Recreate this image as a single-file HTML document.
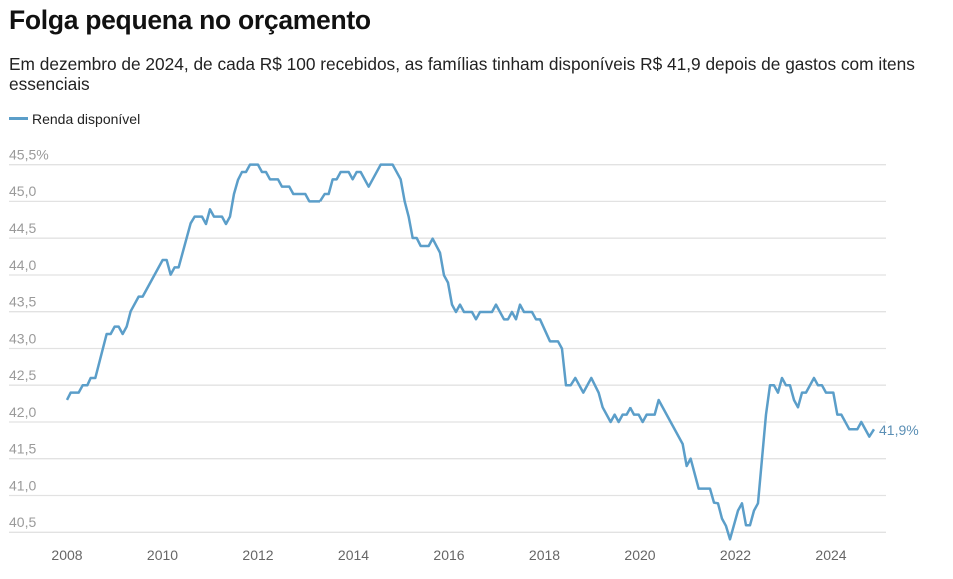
<!DOCTYPE html>
<html><head><meta charset="utf-8"><style>
body{margin:0;width:953px;height:579px;background:#fff;font-family:"Liberation Sans",Arial,sans-serif;overflow:hidden;position:relative}
.t{position:absolute;left:9px;top:5px;font-size:26.5px;font-weight:bold;color:#111;letter-spacing:-0.3px}
.s{position:absolute;left:9px;top:54px;font-size:17.3px;color:#222;line-height:20px;width:940px}
.l{position:absolute;left:9px;top:111px;font-size:14px;color:#222}
.l i{display:inline-block;width:19px;height:3px;background:#5b9ec9;vertical-align:middle;margin-right:4px;position:relative;top:-2px}
</style></head><body>
<div class="t">Folga pequena no orçamento</div>
<div class="s">Em dezembro de 2024, de cada R$ 100 recebidos, as famílias tinham disponíveis R$ 41,9 depois de gastos com itens essenciais</div>
<div class="l"><i></i>Renda disponível</div>
<svg width="953" height="579" style="position:absolute;left:0;top:0" font-family="Liberation Sans, Arial, sans-serif">
<g stroke="#e2e2e2" stroke-width="1.3">
<line x1="9" x2="886" y1="164.7" y2="164.7"/><line x1="9" x2="886" y1="201.4" y2="201.4"/><line x1="9" x2="886" y1="238.2" y2="238.2"/><line x1="9" x2="886" y1="275" y2="275"/><line x1="9" x2="886" y1="311.7" y2="311.7"/><line x1="9" x2="886" y1="348.5" y2="348.5"/><line x1="9" x2="886" y1="385.2" y2="385.2"/><line x1="9" x2="886" y1="422" y2="422"/><line x1="9" x2="886" y1="458.7" y2="458.7"/><line x1="9" x2="886" y1="495.5" y2="495.5"/><line x1="9" x2="886" y1="532.3" y2="532.3"/>
</g>
<g fill="#9a9a9a" font-size="14">
<text x="9" y="159.5">45,5%</text><text x="9" y="196.2">45,0</text><text x="9" y="233">44,5</text><text x="9" y="269.8">44,0</text><text x="9" y="306.5">43,5</text><text x="9" y="343.3">43,0</text><text x="9" y="380">42,5</text><text x="9" y="416.8">42,0</text><text x="9" y="453.5">41,5</text><text x="9" y="490.3">41,0</text><text x="9" y="527.1">40,5</text>
</g>
<g fill="#666" font-size="14" text-anchor="middle">
<text x="67" y="560">2008</text><text x="162.5" y="560">2010</text><text x="258" y="560">2012</text><text x="353.5" y="560">2014</text><text x="449" y="560">2016</text><text x="544.5" y="560">2018</text><text x="640" y="560">2020</text><text x="735.5" y="560">2022</text><text x="831" y="560">2024</text>
</g>
<g fill="none" stroke="#5b9ec9" stroke-width="2.5" stroke-linejoin="round">
<polyline vector-effect="non-scaling-stroke" transform="translate(0,140) scale(0.3333)" points="201,780 212,758 236,758 248,736 262,736 272,714 286,714 320,582 332,582 344,560 356,560 368,582 380,560 392,514 416,470 428,470 488,360 500,360 512,404 524,382 536,382 572,250 584,230 606,230 618,252 630,208 642,230 666,230 678,252 690,230 702,162 714,120 726,96 738,96 750,74 774,74 786,96 798,96 810,118 834,118 846,140 868,140 880,162 916,162 928,184 960,184"/>
<polyline vector-effect="non-scaling-stroke" transform="translate(320,140) scale(0.3333)" points="0,184 14,162 26,162 38,118 50,118 62,96 86,96 98,118 110,96 122,96 146,140 182,74 218,74 242,118 254,184 266,230 278,294 290,294 302,318 326,318 338,296 360,338 372,406 384,428 396,494 408,516 420,494 432,516 456,516 468,538 480,516 516,516 528,494 552,538 564,538 576,516 588,538 600,494 612,516 636,516 648,538 660,538 690,604 714,604 726,626 738,736 752,736 766,714 790,758 814,714 836,758 848,802 872,846 884,824 896,846 908,824 920,824 932,802"/>
<polyline vector-effect="non-scaling-stroke" transform="translate(630,140) scale(0.3333)" points="0,802 12,824 26,824 38,846 50,824 74,824 86,780 158,912 170,978 182,956 206,1046 240,1046 252,1088 264,1090 276,1136 288,1158 300,1198 324,1112 336,1090 348,1156 360,1156 372,1112 384,1090 408,824 420,736 432,736 444,758 456,714 468,736 480,736 492,780 504,802 516,758 528,758 552,714 564,736 576,736 588,758 610,758 622,824 634,824 658,868 682,868 694,846 718,890 732,868"/>
</g>
<text x="879" y="435" fill="#5b8fb5" font-size="14">41,9%</text>
</svg>
</body></html>
